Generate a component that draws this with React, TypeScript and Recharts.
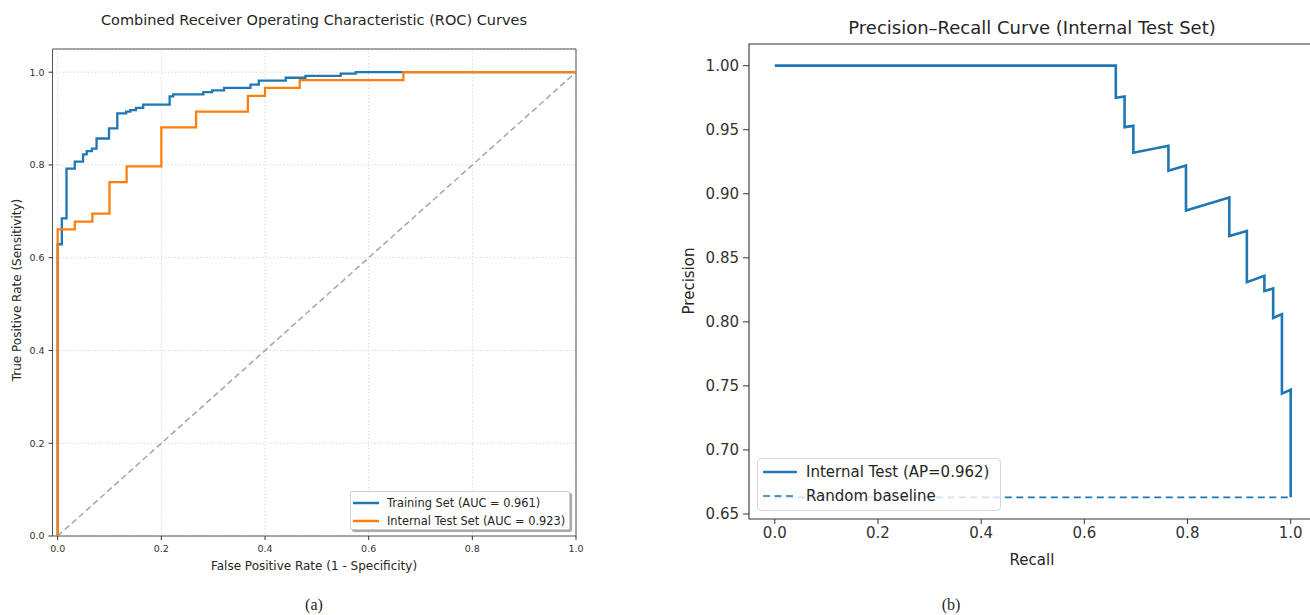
import React from 'react';
import { LineChart, Line, XAxis, YAxis, CartesianGrid, ReferenceArea } from 'recharts';

// ROC – training set (step points: x where the jump happens, y after the jump)
const rocTrainFpr = [0, 0, 0.008, 0.017, 0.033, 0.049, 0.056, 0.066, 0.075, 0.099, 0.115, 0.132, 0.14, 0.151, 0.165, 0.216, 0.223, 0.281, 0.298, 0.321, 0.372, 0.388, 0.44, 0.478, 0.546, 0.575, 1.0];
const rocTrainTpr = [0, 0.629, 0.685, 0.792, 0.807, 0.823, 0.83, 0.835, 0.857, 0.879, 0.911, 0.915, 0.918, 0.923, 0.93, 0.948, 0.952, 0.957, 0.961, 0.966, 0.973, 0.982, 0.988, 0.992, 0.997, 1.0, 1.0];

// ROC – internal test set
const rocTestFpr = [0, 0, 0.033, 0.067, 0.1, 0.133, 0.2, 0.267, 0.367, 0.4, 0.467, 0.667, 1.0];
const rocTestTpr = [0, 0.661, 0.678, 0.695, 0.763, 0.797, 0.881, 0.915, 0.949, 0.966, 0.983, 1.0, 1.0];

// Chance diagonal
const chanceX = [0, 1];
const chanceY = [0, 1];

// Precision–recall curve (internal test)
const prRecall = [0, 0.661, 0.661, 0.678, 0.678, 0.695, 0.695, 0.763, 0.763, 0.797, 0.797, 0.881, 0.881, 0.915, 0.915, 0.949, 0.949, 0.966, 0.966, 0.983, 0.983, 1.0, 1.0];
const prPrecision = [1.0, 1.0, 0.975, 0.976, 0.952, 0.953, 0.932, 0.9375, 0.918, 0.922, 0.887, 0.897, 0.867, 0.871, 0.831, 0.836, 0.824, 0.826, 0.803, 0.806, 0.744, 0.747, 0.663];

// Random baseline (positive prevalence)
const baselineX = [0, 1];
const baselineValue = 0.663;

// Tick labels
const rocTicks = [0, 0.2, 0.4, 0.6, 0.8, 1.0];
const prXTicks = [0, 0.2, 0.4, 0.6, 0.8, 1.0];
const prYTicks = [0.65, 0.7, 0.75, 0.8, 0.85, 0.9, 0.95, 1.0];

const zip = (xs: number[], ys: number[]) => xs.map((x, i) => ({ x, y: ys[i] }));
const trainData = zip(rocTrainFpr, rocTrainTpr);
const testData = zip(rocTestFpr, rocTestTpr);
const chanceData = zip(chanceX, chanceY);
const prData = zip(prRecall, prPrecision);
const baselineData = baselineX.map((x) => ({ x, y: baselineValue }));

const BLUE = '#1f77b4';
const ORANGE = '#ff7f0e';
const FONT = '"DejaVu Sans", sans-serif';
const TXT = '#262626';

function Txt(props: { cx: number; cy: number; size: number; rotate?: boolean; serif?: boolean; children: React.ReactNode }) {
  const { cx, cy, size, rotate, serif, children } = props;
  return (
    <div
      style={{
        position: 'absolute',
        left: cx,
        top: cy,
        transform: `translate(-50%, -50%)${rotate ? ' rotate(-90deg)' : ''}`,
        fontSize: size,
        lineHeight: 1,
        whiteSpace: 'nowrap',
        color: TXT,
        fontFamily: serif ? '"Liberation Serif", "Times New Roman", serif' : FONT,
      }}
    >
      {children}
    </div>
  );
}

function LegendLine(props: { color: string; dashed?: boolean; width: number; sw: number }) {
  return (
    <svg width={props.width} height={8} style={{ display: 'block' }}>
      <line x1={0} y1={4} x2={props.width} y2={4} stroke={props.color} strokeWidth={props.sw} strokeDasharray={props.dashed ? '7 4.5' : undefined} />
    </svg>
  );
}

export default function App() {
  return (
    <div style={{ position: 'absolute', left: 0, top: 0, width: 1310, height: 615, overflow: 'hidden', background: '#fff', fontFamily: FONT }}>
      {/* ---------- (a) ROC ---------- */}
      <div style={{ position: 'absolute', left: 0, top: 0 }}>
        <LineChart width={600} height={615} margin={{ top: 49, right: 24, bottom: 0, left: 0 }}>
          <CartesianGrid stroke="#dadada" strokeDasharray="1.5 2" />
          <XAxis
            dataKey="x"
            type="number"
            domain={[-0.01, 1.0]}
            ticks={rocTicks}
            allowDataOverflow
            height={79}
            axisLine={false}
            tickSize={4}
            tickMargin={5}
            tickLine={{ stroke: '#333' }}
            tick={{ fontSize: 9.5, fill: '#333', fontFamily: FONT }}
            tickFormatter={(v: number) => v.toFixed(1)}
          />
          <YAxis
            dataKey="y"
            type="number"
            domain={[0, 1.05]}
            ticks={rocTicks}
            allowDataOverflow
            width={52.5}
            axisLine={false}
            tickSize={4}
            tickMargin={4}
            tickLine={{ stroke: '#333' }}
            tick={{ fontSize: 9.5, fill: '#333', fontFamily: FONT }}
            tickFormatter={(v: number) => v.toFixed(1)}
          />
          <Line data={chanceData} dataKey="y" type="linear" stroke="#aaaaaa" strokeWidth={1.6} strokeDasharray="6 3.5" dot={false} isAnimationActive={false} />
          <Line data={trainData} dataKey="y" type="stepAfter" stroke={BLUE} strokeWidth={2.3} dot={false} isAnimationActive={false} />
          <Line data={testData} dataKey="y" type="stepAfter" stroke={ORANGE} strokeWidth={2.3} dot={false} isAnimationActive={false} />
          <ReferenceArea x1={-0.01} x2={1.0} y1={0} y2={1.05} fill="none" fillOpacity={0} stroke="#555" strokeWidth={1} />
        </LineChart>
      </div>

      <Txt cx={314} cy={20} size={14.5}>Combined Receiver Operating Characteristic (ROC) Curves</Txt>
      <Txt cx={314} cy={566} size={12}>False Positive Rate (1 - Specificity)</Txt>
      <Txt cx={17} cy={290} size={12} rotate>True Positive Rate (Sensitivity)</Txt>

      {/* ROC legend */}
      <div
        style={{
          position: 'absolute',
          left: 350,
          top: 491,
          width: 220,
          height: 39,
          boxSizing: 'border-box',
          border: '1px solid #cfcfcf',
          borderRadius: 2,
          background: '#fff',
          boxShadow: '2px 2px 1px rgba(0,0,0,0.35)',
          fontSize: 11.4,
          color: TXT,
        }}
      >
        <div style={{ position: 'absolute', left: 2, top: 5, display: 'flex', alignItems: 'center' }}>
          <LegendLine color={BLUE} width={26} sw={2.5} />
          <span style={{ marginLeft: 8, lineHeight: '12px' }}>Training Set (AUC = 0.961)</span>
        </div>
        <div style={{ position: 'absolute', left: 2, top: 23, display: 'flex', alignItems: 'center' }}>
          <LegendLine color={ORANGE} width={26} sw={2.5} />
          <span style={{ marginLeft: 8, lineHeight: '12px' }}>Internal Test Set (AUC = 0.923)</span>
        </div>
      </div>

      {/* ---------- (b) Precision–Recall ---------- */}
      <div style={{ position: 'absolute', left: 640, top: 0 }}>
        <LineChart width={690} height={615} margin={{ top: 44, right: 13.5, bottom: 0, left: 0 }}>
          <XAxis
            dataKey="x"
            type="number"
            domain={[-0.05, 1.05]}
            ticks={prXTicks}
            allowDataOverflow
            height={96}
            axisLine={false}
            tickSize={5}
            tickMargin={3}
            tickLine={{ stroke: '#333' }}
            tick={{ fontSize: 15, fill: '#333', fontFamily: FONT }}
            tickFormatter={(v: number) => v.toFixed(1)}
          />
          <YAxis
            dataKey="y"
            type="number"
            domain={[0.6461, 1.0169]}
            ticks={prYTicks}
            allowDataOverflow
            width={109}
            axisLine={false}
            tickSize={6}
            tickMargin={4}
            tickLine={{ stroke: '#333' }}
            tick={{ fontSize: 15, fill: '#333', fontFamily: FONT }}
            tickFormatter={(v: number) => v.toFixed(2)}
          />
          <Line data={baselineData} dataKey="y" type="linear" stroke={BLUE} strokeWidth={1.6} strokeDasharray="7 4.5" dot={false} isAnimationActive={false} />
          <Line data={prData} dataKey="y" type="linear" stroke={BLUE} strokeWidth={2.6} dot={false} isAnimationActive={false} />
          <ReferenceArea x1={-0.05} x2={1.05} y1={0.6461} y2={1.0169} fill="none" fillOpacity={0} stroke="#333" strokeWidth={1.1} />
        </LineChart>
      </div>

      <Txt cx={1032} cy={28} size={18}>Precision–Recall Curve (Internal Test Set)</Txt>
      <Txt cx={1032} cy={560} size={15}>Recall</Txt>
      <Txt cx={689} cy={281} size={15} rotate>Precision</Txt>

      {/* PR legend */}
      <div
        style={{
          position: 'absolute',
          left: 757,
          top: 458,
          width: 244,
          height: 53,
          boxSizing: 'border-box',
          border: '1px solid #d6d6d6',
          borderRadius: 4,
          background: 'rgba(255,255,255,0.8)',
          fontSize: 15,
          color: TXT,
        }}
      >
        <div style={{ position: 'absolute', left: 5, top: 5, display: 'flex', alignItems: 'center' }}>
          <LegendLine color={BLUE} width={34} sw={2.6} />
          <span style={{ marginLeft: 9, lineHeight: '16px' }}>Internal Test (AP=0.962)</span>
        </div>
        <div style={{ position: 'absolute', left: 5, top: 29, display: 'flex', alignItems: 'center' }}>
          <LegendLine color={BLUE} width={34} sw={1.6} dashed />
          <span style={{ marginLeft: 9, lineHeight: '16px' }}>Random baseline</span>
        </div>
      </div>

      <Txt cx={314} cy={605} size={16} serif>(a)</Txt>
      <Txt cx={951} cy={605} size={16} serif>(b)</Txt>
    </div>
  );
}
